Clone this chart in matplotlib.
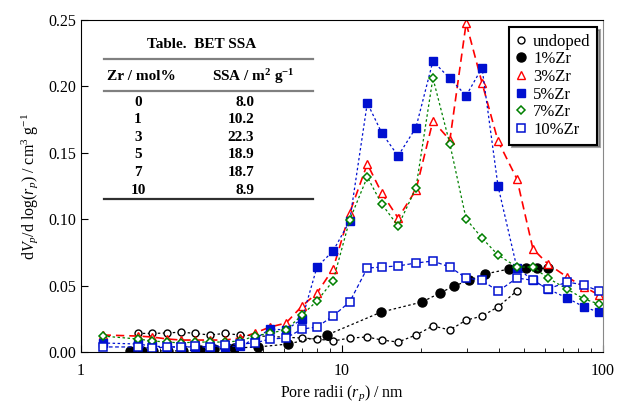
import numpy as np
import matplotlib
matplotlib.use("Agg")
import matplotlib.pyplot as plt
from matplotlib.lines import Line2D

plt.rcParams['font.family'] = ['Liberation Serif', 'DejaVu Serif']
plt.rcParams['mathtext.fontset'] = 'custom'
plt.rcParams['mathtext.rm'] = 'Liberation Serif'
plt.rcParams['mathtext.it'] = 'Liberation Serif:italic'
plt.rcParams['mathtext.bf'] = 'Liberation Serif:bold'

# pore radius (nm) and dV/dlog(r) for each sample
r_undoped = [1.65, 1.87, 2.14, 2.42, 2.73, 3.12, 3.56, 4.06, 7.03, 8.02, 9.24, 10.7,
             12.5, 14.2, 16.4, 19.2, 22.3, 25.9, 29.9, 34.4, 39.6, 46.8]
v_undoped = [0.014, 0.014, 0.0143, 0.015, 0.014, 0.0128, 0.014, 0.0128, 0.0105, 0.0098,
             0.0083, 0.0105, 0.0113, 0.009, 0.0075, 0.0128, 0.0196, 0.0166, 0.024, 0.027,
             0.034, 0.046]

r_1 = [1.54, 1.71, 1.89, 2.15, 2.46, 2.86, 3.23, 3.86, 4.77, 6.21, 8.76, 14.1, 20.3,
       23.7, 26.9, 30.7, 35.3, 43.6, 50.7, 55.9, 61.5]
v_1 = [0.0005, 0.0005, 0.0008, 0.0008, 0.0008, 0.0015, 0.0023, 0.003, 0.0038, 0.006,
       0.0128, 0.030, 0.0377, 0.0444, 0.0497, 0.054, 0.0587, 0.0625, 0.063, 0.063, 0.063]

r_3 = [1.21, 1.65, 1.87, 2.14, 2.42, 2.73, 3.12, 3.56, 4.06, 4.64, 5.30, 6.10, 7.03,
       8.02, 9.24, 10.7, 12.5, 14.2, 16.4, 19.2, 22.3, 25.9, 29.9, 34.4, 39.6, 46.8,
       53.9, 61.5, 72.8, 84.6, 96.6]
v_3 = [0.0128, 0.012, 0.0113, 0.0098, 0.009, 0.009, 0.009, 0.009, 0.0105, 0.0143,
       0.0188, 0.0218, 0.0346, 0.0444, 0.0625, 0.1047, 0.1416, 0.1197, 0.1009, 0.122,
       0.174, 0.1596, 0.2477, 0.2026, 0.1589, 0.1303, 0.0776, 0.0663, 0.0565, 0.049,
       0.0429]

r_5 = [1.21, 1.65, 1.87, 2.14, 2.42, 2.73, 3.12, 3.56, 4.06, 4.64, 5.30, 6.10, 7.03,
       8.02, 9.24, 10.7, 12.5, 14.2, 16.4, 19.2, 22.3, 25.9, 29.9, 34.4, 39.6, 46.8,
       53.9, 61.5, 72.8, 84.6, 96.6]
v_5 = [0.0068, 0.006, 0.0045, 0.0038, 0.0038, 0.0038, 0.0038, 0.0038, 0.0045, 0.0098,
       0.0173, 0.0166, 0.0248, 0.064, 0.076, 0.0986, 0.1875, 0.165, 0.1476, 0.169,
       0.219, 0.206, 0.193, 0.214, 0.125, 0.0633, 0.054, 0.0474, 0.0407, 0.0339, 0.030]

r_7 = [1.21, 1.65, 1.87, 2.14, 2.42, 2.73, 3.12, 3.56, 4.06, 4.64, 5.30, 6.10, 7.03,
       8.02, 9.24, 10.7, 12.5, 14.2, 16.4, 19.2, 22.3, 25.9, 29.9, 34.4, 39.6, 46.8,
       53.9, 61.5, 72.8, 84.6, 96.6]
v_7 = [0.012, 0.0098, 0.0083, 0.0075, 0.0068, 0.0075, 0.0075, 0.0075, 0.0083, 0.012,
       0.0143, 0.0166, 0.0279, 0.0384, 0.0535, 0.0994, 0.1318, 0.1114, 0.0949, 0.1235,
       0.2063, 0.1566, 0.1001, 0.0858, 0.073, 0.064, 0.064, 0.0557, 0.0474, 0.0399,
       0.0361]

r_10 = [1.21, 1.65, 1.87, 2.14, 2.42, 2.73, 3.12, 3.56, 4.06, 4.64, 5.30, 6.10, 7.03,
        8.02, 9.24, 10.7, 12.5, 14.2, 16.4, 19.2, 22.3, 25.9, 29.9, 34.4, 39.6, 46.8,
        53.9, 61.5, 72.8, 84.6, 96.6]
v_10 = [0.0038, 0.0038, 0.003, 0.0038, 0.0038, 0.0045, 0.0038, 0.0053, 0.006, 0.0068,
        0.0098, 0.0105, 0.0173, 0.0188, 0.0271, 0.0377, 0.0632, 0.0640, 0.0648, 0.0670,
        0.0685, 0.0640, 0.0557, 0.054, 0.0457, 0.0557, 0.054, 0.0474, 0.0527, 0.0505,
        0.0457]

table_zr = ['0', '1', '3', '5', '7', '10']
table_ssa = ['8.0', '10.2', '22.3', '18.9', '18.7', '8.9']

fig = plt.figure(figsize=(6.21, 4.05), dpi=100)
ax = fig.add_axes([81/621, 1-352/405, 522/621, 332/405])

blue = '#0010d0'
green = '#008000'
ax.plot(r_undoped, v_undoped, ls=(0, (2, 2)), lw=0.9, color='black', marker='o', ms=5,
        mfc='white', mec='black', mew=1.0, label='undoped')
ax.plot(r_1, v_1, ls=(0, (2, 2)), lw=0.9, color='black', marker='o', ms=6.5,
        mfc='black', mec='black', label='1%Zr')
ax.plot(r_3, v_3, ls=(0, (5, 3)), lw=1.2, color='red', marker='^', ms=5.5,
        mfc='white', mec='red', mew=1.0, label='3%Zr')
ax.plot(r_5, v_5, ls=(0, (2, 2)), lw=0.9, color=blue, marker='s', ms=5.2,
        mfc=blue, mec=blue, label='5%Zr')
ax.plot(r_7, v_7, ls=(0, (2, 2)), lw=0.9, color=green, marker='D', ms=4,
        mfc='white', mec=green, mew=1.1, label='7%Zr')
ax.plot(r_10, v_10, ls=(0, (3, 2)), lw=0.9, color=blue, marker='s', ms=5.2,
        mfc='white', mec=blue, mew=1.1, label='10%Zr')

ax.set_xscale('log')
ax.set_xlim(1, 100)
ax.set_ylim(0, 0.25)
ax.set_yticks([0, 0.05, 0.10, 0.15, 0.20, 0.25])
ax.set_yticklabels(['0.00', '0.05', '0.10', '0.15', '0.20', '0.25'])
ax.set_xticks([1, 10, 100])
ax.set_xticklabels(['1', '10', '100'])
ax.tick_params(axis='both', which='both', direction='in', labelsize=11.5, top=False, right=False)
ax.tick_params(axis='both', which='major', length=5)
ax.tick_params(axis='x', which='minor', length=3)
ax.tick_params(axis='x', pad=8)
ax.spines['right'].set_color('#888888')

ax.set_xlabel(r'Pore radii ($r_p$) / nm', fontsize=11.5, labelpad=3)
ax.set_ylabel(r'd$V_p$/d log($r_p$) / cm$^3$ g$^{-1}$', fontsize=11.5, labelpad=6)

leg = ax.legend(loc='upper right', bbox_to_anchor=(0.989, 0.979), borderaxespad=0,
                fontsize=12, handlelength=0.6, handletextpad=0.45, labelspacing=0.1,
                frameon=True, fancybox=False, shadow=True, edgecolor='black',
                framealpha=1, borderpad=0.4)
leg.get_frame().set_linewidth(1.5)
for h in leg.legend_handles:
    h.set_linestyle('none')


def ax_xy(px, py):
    return (px - 81) / 522, (352 - py) / 332


# BET table
tx, ty = ax_xy(202, 45)
ax.text(tx, ty, 'Table.  BET SSA', transform=ax.transAxes, ha='center', va='center',
        fontsize=11, fontweight='bold')
for py, col in [(59, '#808080'), (91, '#808080'), (199, '#303030')]:
    x0, y0 = ax_xy(104, py)
    x1, _ = ax_xy(313, py)
    ax.add_line(Line2D([x0, x1], [y0, y0], transform=ax.transAxes, color=col, lw=1.6))
hx, hy = ax_xy(107, 77)
ax.text(hx, hy, 'Zr / mol%', transform=ax.transAxes, ha='left', va='center',
        fontsize=11, fontweight='bold')
sx, sy = ax_xy(212, 77)
ax.text(sx, sy, r'SSA / m$^\mathbf{2}$ g$^\mathbf{-1}$', transform=ax.transAxes, ha='left',
        va='center', fontsize=11, fontweight='bold')
row_y = np.linspace(102, 190, len(table_zr))
for zr, ssa, py in zip(table_zr, table_ssa, row_y):
    zx, zy = ax_xy(138, py)
    ax.text(zx, zy, zr, transform=ax.transAxes, ha='center', va='center',
            fontsize=11, fontweight='bold')
    vx, _ = ax_xy(254, py)
    ax.text(vx, zy, ssa, transform=ax.transAxes, ha='right', va='center',
            fontsize=11, fontweight='bold')

fig.savefig('out.png', dpi=100)
